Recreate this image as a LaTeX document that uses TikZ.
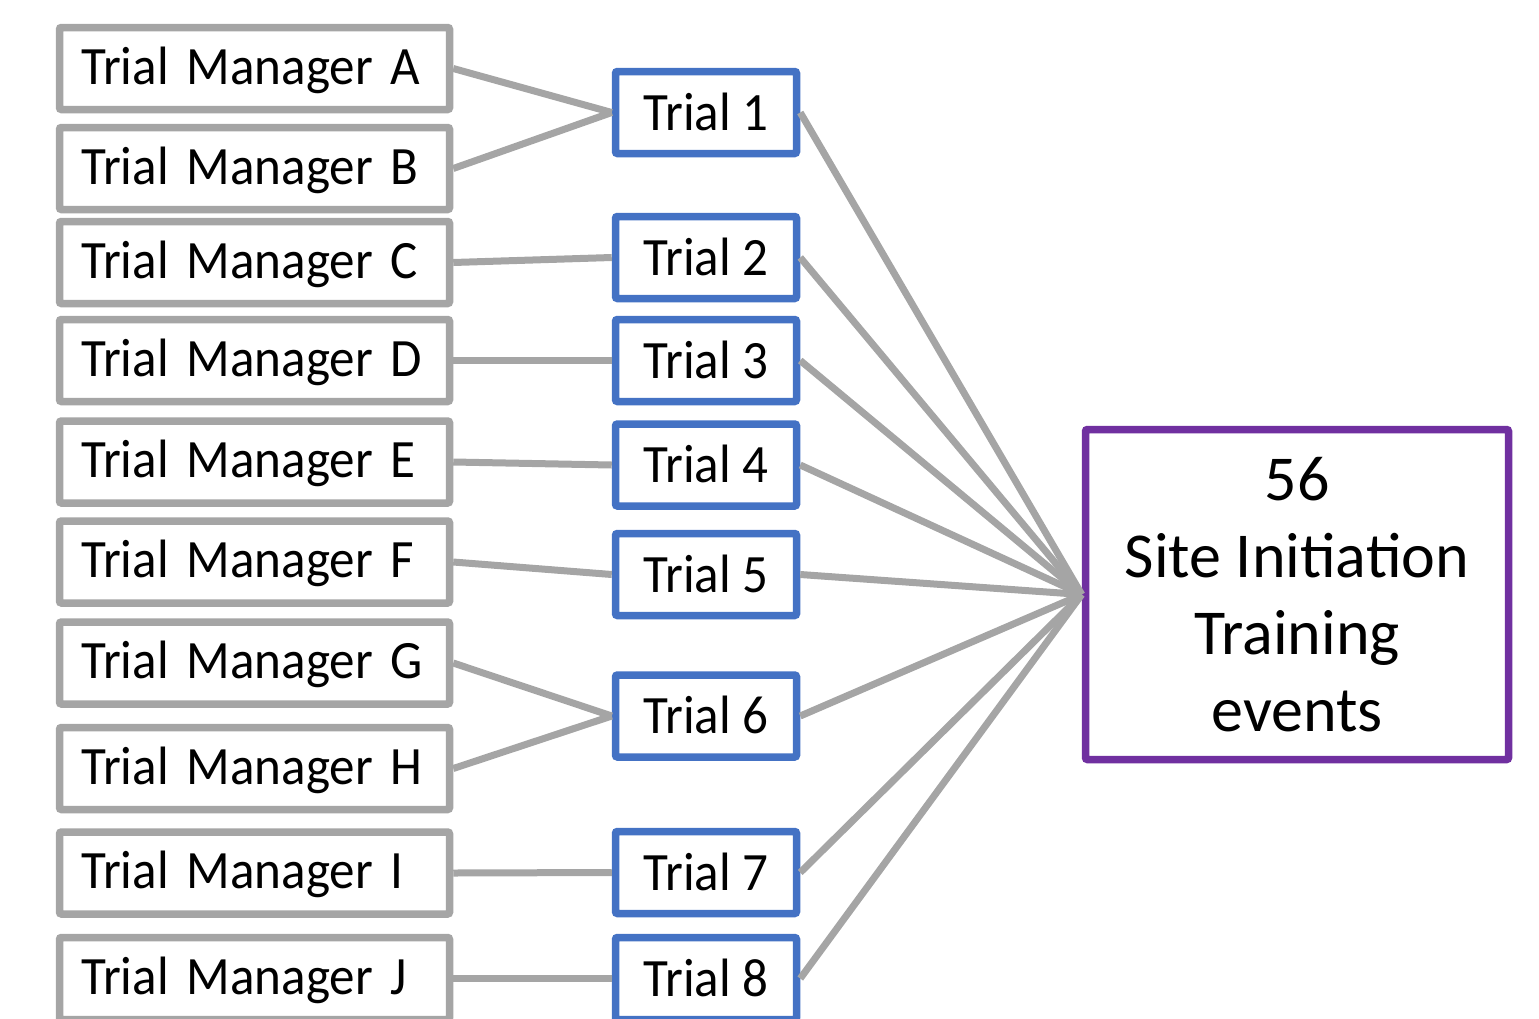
\documentclass[tikz,border=0pt]{standalone}
\usepackage{fontspec}
\setmainfont{Carlito}
\newfontfamily\boxfont{Carlito}[FakeStretch=0.945]
\definecolor{mgrgray}{HTML}{A5A5A5}
\definecolor{trialblue}{HTML}{4472C4}
\definecolor{evpurple}{HTML}{7030A0}
\begin{document}
\begin{tikzpicture}[x=1pt,y=-1pt,
  base/.style={draw, line width=7.5pt, rounded corners=2pt, fill=white,
    font=\boxfont\fontsize{54}{64}\selectfont},
  mgr/.style={base, draw=mgrgray, minimum width=390pt, minimum height=82pt,
    text width=346pt, inner xsep=22pt, align=left, text height=38pt, text depth=7pt},
  trial/.style={base, draw=trialblue, minimum width=181pt, minimum height=82pt,
    inner xsep=0pt, text height=38pt, text depth=3pt},
  event/.style={draw=evpurple, line width=7.5pt, rounded corners=2pt, fill=white,
    font=\fontsize{64}{77}\selectfont, minimum width=423pt, minimum height=330pt, align=center},
  link/.style={draw=mgrgray, line width=7pt}]
\useasboundingbox (0,0) rectangle (1539,1018);
\node[mgr] (ma) at (254.5,68.5) {Trial Manager A};
\node[mgr] (mb) at (254.5,168.5) {Trial Manager B};
\node[mgr] (mc) at (254.5,262.5) {Trial Manager C};
\node[mgr] (md) at (254.5,360.5) {Trial Manager D};
\node[mgr] (me) at (254.5,462) {Trial Manager E};
\node[mgr] (mf) at (254.5,562) {Trial Manager F};
\node[mgr] (mg) at (254.5,663) {Trial Manager G};
\node[mgr] (mh) at (254.5,768.5) {Trial Manager H};
\node[mgr] (mi) at (254.5,873) {Trial Manager I};
\node[mgr] (mj) at (254.5,978.5) {Trial Manager J};
\node[trial] (t1) at (706,112.5) {Trial 1};
\node[trial] (t2) at (706,257.5) {Trial 2};
\node[trial] (t3) at (706,360.5) {Trial 3};
\node[trial] (t4) at (706,465) {Trial 4};
\node[trial] (t5) at (706,574.5) {Trial 5};
\node[trial] (t6) at (706,716) {Trial 6};
\node[trial] (t7) at (706,872.5) {Trial 7};
\node[trial] (t8) at (706,978.5) {Trial 8};
\node[event] (ev) at (1297,594.5) {56\\Site Initiation\\Training\\events};
\draw[link] (ma.east) -- (t1.west);
\draw[link] (mb.east) -- (t1.west);
\draw[link] (mc.east) -- (t2.west);
\draw[link] (md.east) -- (t3.west);
\draw[link] (me.east) -- (t4.west);
\draw[link] (mf.east) -- (t5.west);
\draw[link] (mg.east) -- (t6.west);
\draw[link] (mh.east) -- (t6.west);
\draw[link] (mi.east) -- (t7.west);
\draw[link] (mj.east) -- (t8.west);
\foreach \t in {t1,t2,t3,t4,t5,t6,t7,t8}
  \draw[link] (\t.east) -- (ev.west);
\end{tikzpicture}
\end{document}
